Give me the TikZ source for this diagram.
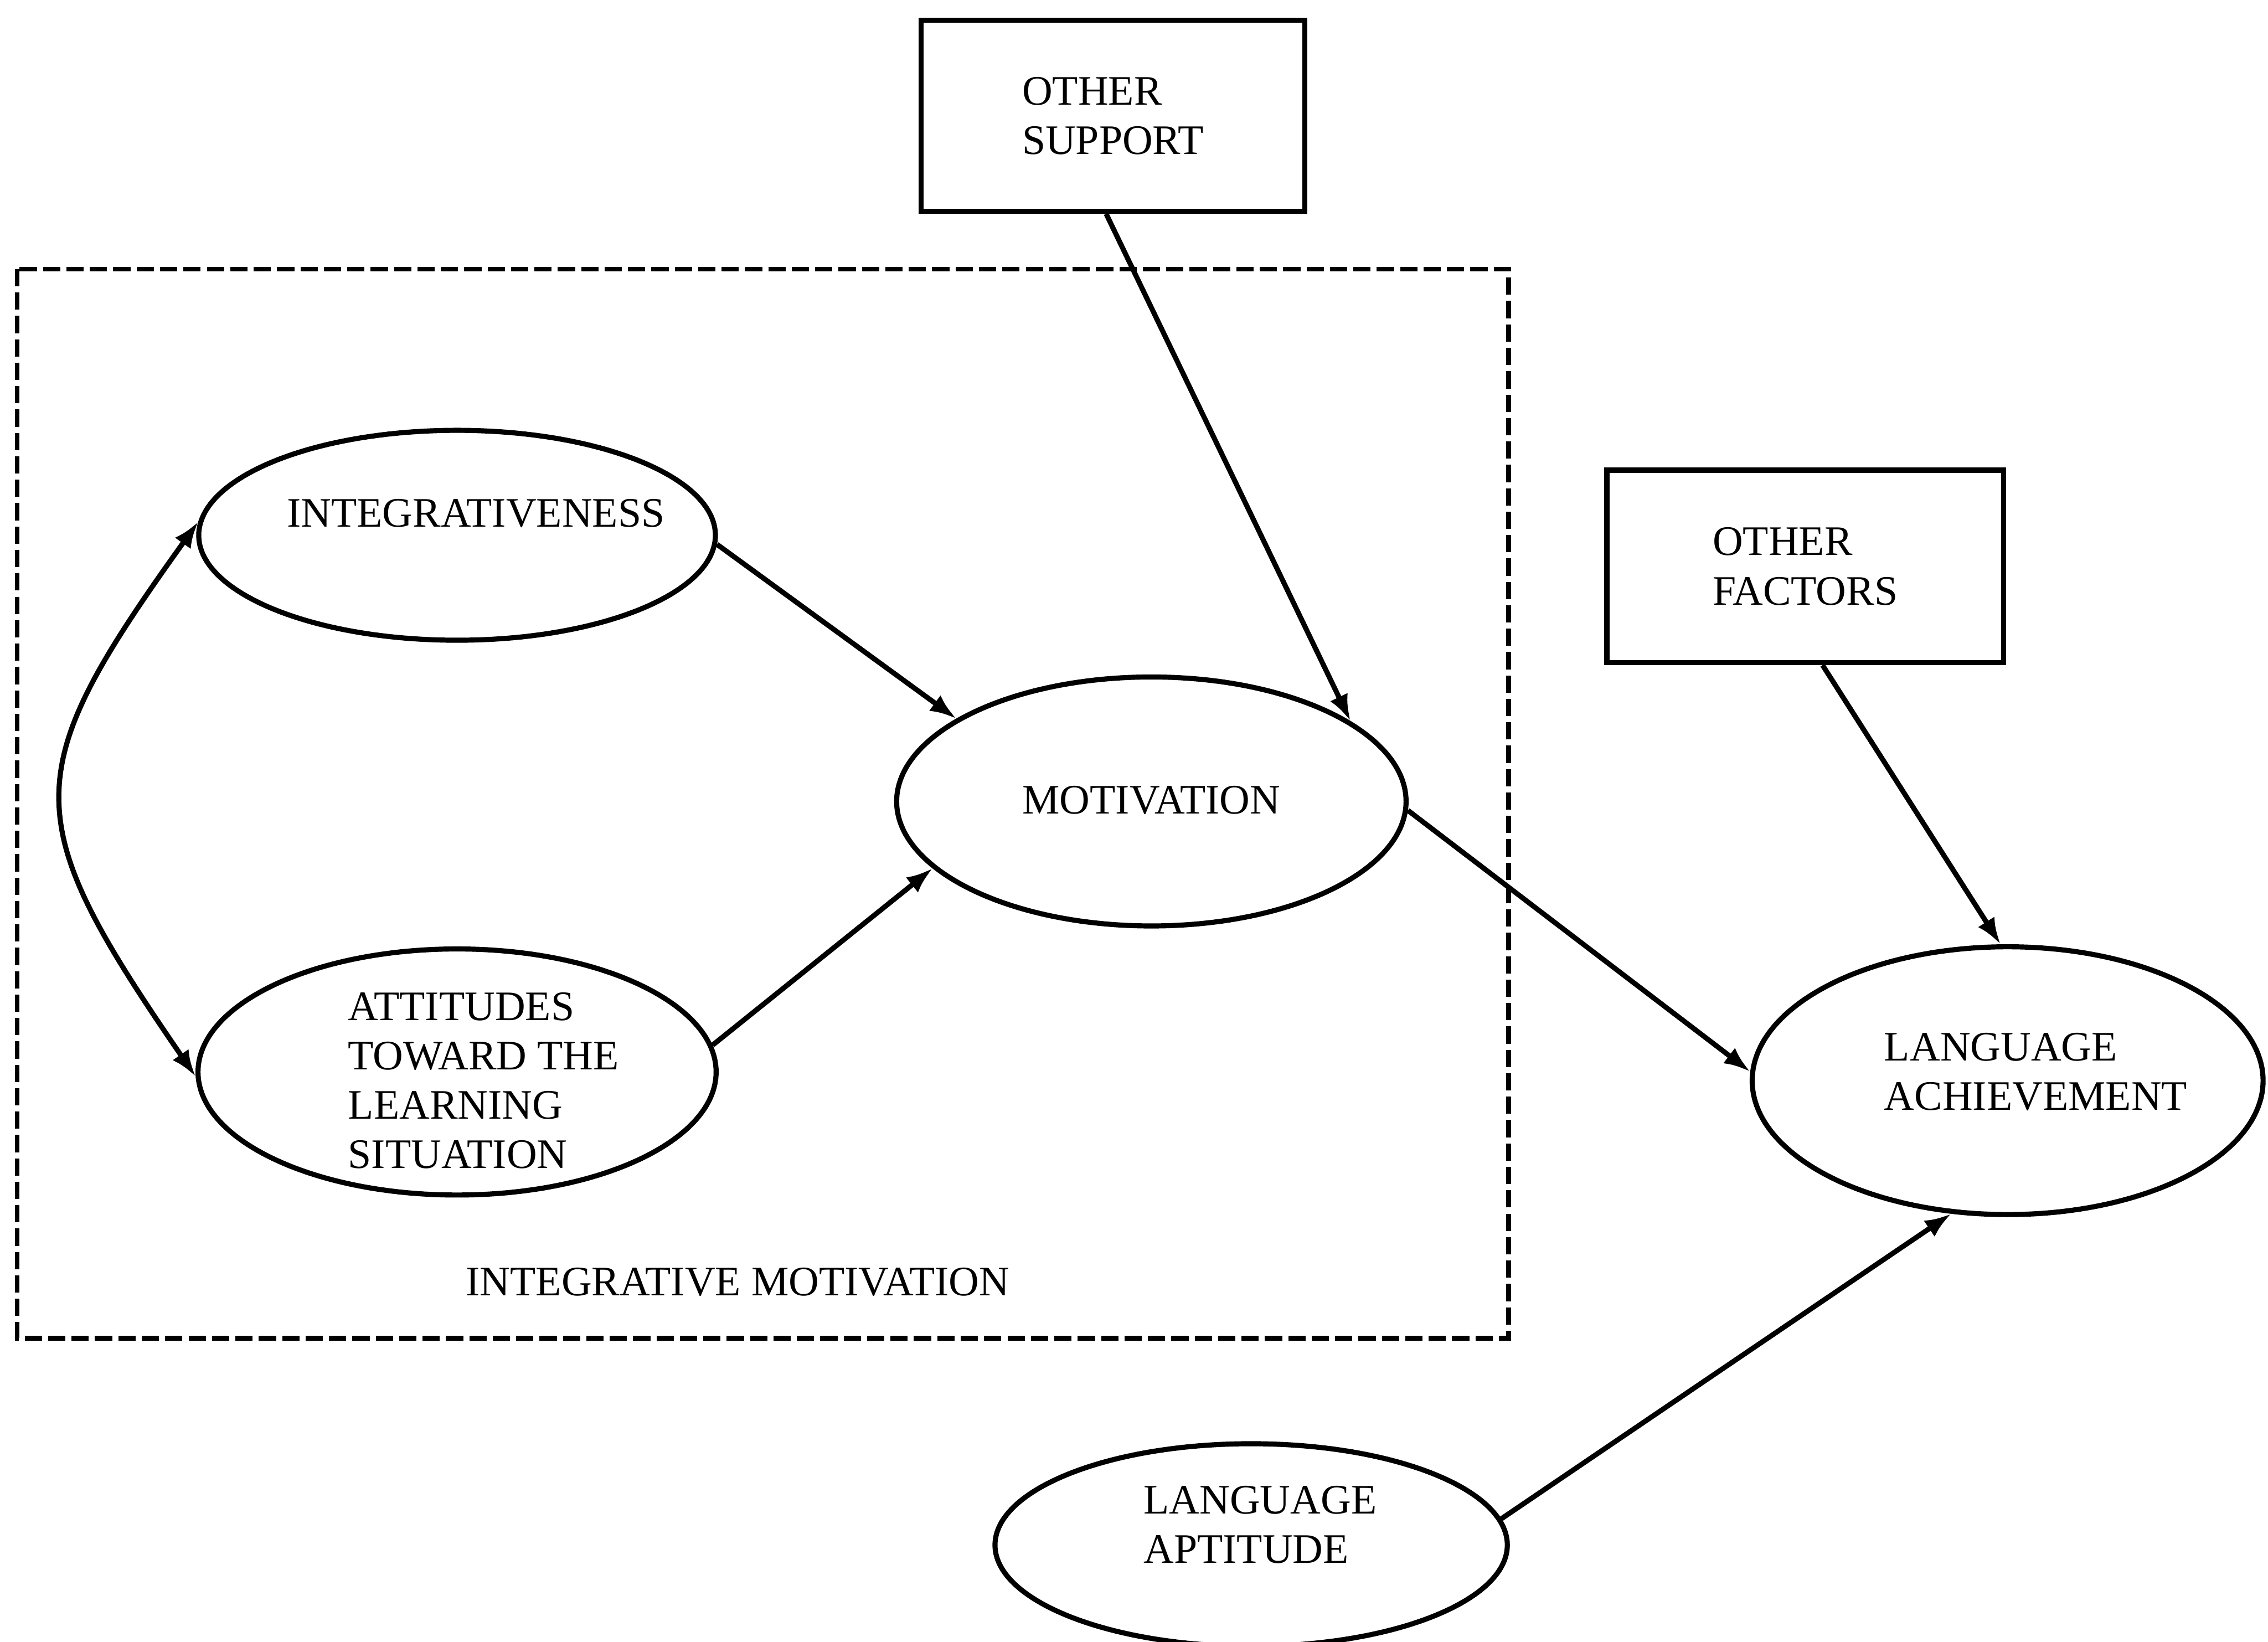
\documentclass[tikz,border=0pt]{standalone}
\usepackage{fontspec}
\setmainfont{Liberation Serif}
\usetikzlibrary{arrows.meta,shapes.geometric}

\begin{document}
\begin{tikzpicture}[x=0.01cm, y=-0.01cm, >={Latex[length=5.2pt,width=3.8pt]},
    every node/.style={font={\fontsize{8.25pt}{9.7pt}\selectfont}, align=left},
    oval/.style={draw, ellipse, line width=1pt, inner sep=0pt},
    factorbox/.style={draw, rectangle, line width=1pt, inner sep=0pt},
    link/.style={->, line width=1pt}]
    \useasboundingbox (0,0) rectangle (1568,1135);

    % Integrative motivation frame
    \draw[line width=0.9pt, dash pattern=on 3.4pt off 1.2pt] (12,186) rectangle (1043,925);
    \node (frame-txt) at (510,886) {INTEGRATIVE MOTIVATION};

    % Boxes
    \node[factorbox, minimum width=2.65cm, minimum height=1.32cm] (support) at (769.5,80) {OTHER\\SUPPORT};
    \node[factorbox, minimum width=2.74cm, minimum height=1.33cm] (factors) at (1248,391.5) {OTHER\\FACTORS};

    % Ellipses
    \node[oval, minimum width=3.57cm, minimum height=1.45cm] (integ) at (316,370) {};
    \node (integ-txt) at (329,355) {INTEGRATIVENESS};
    \node[oval, minimum width=3.58cm, minimum height=1.70cm] (att) at (316,741) {};
    \node[anchor=west, inner sep=0pt] (att-txt) at (240,747) {ATTITUDES\\TOWARD THE\\LEARNING\\SITUATION};
    \node[oval, minimum width=3.52cm, minimum height=1.72cm] (mot) at (796,554) {};
    \node (mot-txt) at (796,553) {MOTIVATION};
    \node[oval, minimum width=3.53cm, minimum height=1.85cm] (ach) at (1388,747) {};
    \node[anchor=west, inner sep=0pt] (ach-txt) at (1302,741) {LANGUAGE\\ACHIEVEMENT};
    \node[oval, minimum width=3.54cm, minimum height=1.40cm] (apt) at (865,1068) {};
    \node[anchor=west, inner sep=0pt] (apt-txt) at (790,1054) {LANGUAGE\\APTITUDE};

    % Paths
    \draw[link, <->] (integ.177) .. controls (12,535) and (12,565) .. (att.181);
    \draw[link] (integ.358) -- (mot.157);
    \draw[link] (att.6) -- (mot.197);
    \draw[link] (support.-94) -- (mot.22);
    \draw[link] (mot.358) -- (ach.178);
    \draw[link] (factors.-80) -- (ach.93);
    \draw[link] (apt.6) -- (ach.247);
\end{tikzpicture}
\end{document}
